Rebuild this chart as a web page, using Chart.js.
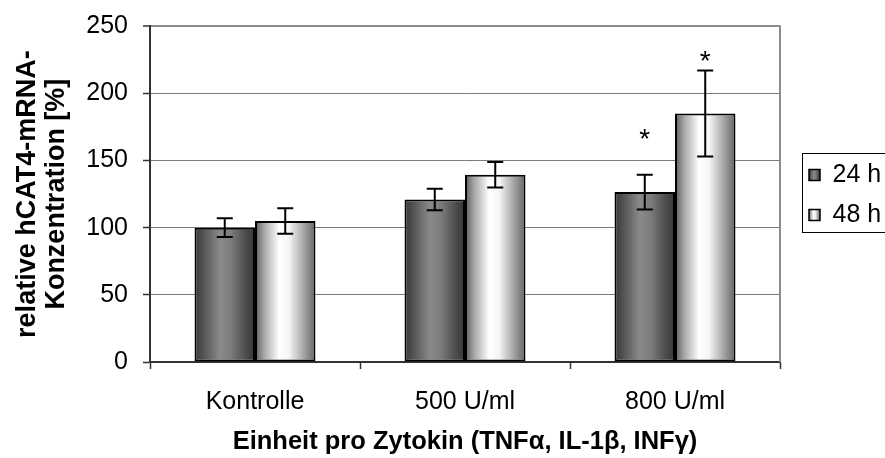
<!DOCTYPE html>
<html>
<head>
<meta charset="utf-8">
<style>
  html, body { margin: 0; padding: 0; background: #fff; overflow: hidden; }
  canvas { display: block; }
</style>
<script src="https://cdn.jsdelivr.net/npm/chart.js@4.4.1/dist/chart.umd.min.js"></script>
</head>
<body>
<canvas id="chart" width="885" height="458"></canvas>
<script>
// Relative hCAT4 mRNA after cytokine stimulation (mean ± error, % of control)
const categories = ['Kontrolle', '500 U/ml', '800 U/ml'];
const seriesNames = ['24 h', '48 h'];
const values24h = [100, 121, 126.5];
const errors24h = [7, 8, 13];
const values48h = [105, 139.5, 185];
const errors48h = [9.5, 9.5, 32];
const significant24h = [false, false, true];
const significant48h = [false, false, true];
const yTickValues = [0, 50, 100, 150, 200, 250];
const yTitleLines = ['relative hCAT4-mRNA-', 'Konzentration [%]'];
const xTitleText = 'Einheit pro Zytokin (TNFα, IL-1β, INFγ)';

const seriesValues = [values24h, values48h];
const seriesErrors = [errors24h, errors48h];
const seriesSignificance = [significant24h, significant48h];

// cylinder-like horizontal shading for each series
const shadeStops = [
  [[0, '#363636'], [0.18, '#5a5a5a'], [0.42, '#8a8a8a'], [0.6, '#7c7c7c'], [0.85, '#4c4c4c'], [1, '#363636']],
  [[0, '#5c5c5c'], [0.15, '#a6a6a6'], [0.4, '#ffffff'], [0.56, '#f6f6f6'], [0.82, '#a0a0a0'], [1, '#646464']]
];

function shade(ctx, x0, x1, stops) {
  if (!isFinite(x0) || !isFinite(x1)) return stops[2][1];
  const g = ctx.createLinearGradient(x0, 0, x1, 0);
  stops.forEach(([o, c]) => g.addColorStop(o, c));
  return g;
}

function barFill(seriesIndex) {
  return c => {
    const el = c.element;
    const stops = shadeStops[seriesIndex];
    if (!el) return stops[2][1];
    return shade(c.chart.ctx, el.x - el.width / 2, el.x + el.width / 2, stops);
  };
}

const FONT = "'Liberation Sans', Arial, Helvetica, sans-serif";
Chart.defaults.font.family = FONT;
Chart.defaults.color = '#000';

// legend sits in a framed box to the right of the plot
const LEGEND_BOX = { left: 802, top: 153, bottom: 232 };
const LEGEND_PAD = 15;

const legendPlacement = {
  id: 'legendPlacement',
  afterLayout(chart) {
    const L = chart.legend;
    if (!L) return;
    // items are centred between top and bottom
    L.left = LEGEND_BOX.left - 8;
    L.right = 900;
    L.top = 83;
    L.bottom = 307;
    L.width = L.right - L.left;
    L.height = L.bottom - L.top;
  },
  afterDraw(chart) {
    const ctx = chart.ctx;
    ctx.save();
    ctx.strokeStyle = '#000';
    ctx.lineWidth = 1;
    ctx.strokeRect(LEGEND_BOX.left + 0.5, LEGEND_BOX.top + 0.5, 120, LEGEND_BOX.bottom - LEGEND_BOX.top);
    ctx.restore();
  }
};

// gray frame on the right edge of the plot area
const plotFrame = {
  id: 'plotFrame',
  beforeDatasetsDraw(chart) {
    const { ctx, chartArea: a } = chart;
    ctx.save();
    ctx.strokeStyle = '#8c8c8c';
    ctx.lineWidth = 2;
    ctx.beginPath();
    ctx.moveTo(a.right, a.top - 1);
    ctx.lineTo(a.right, a.bottom);
    ctx.stroke();
    ctx.restore();
  }
};

// error bars and significance asterisks
const errorBars = {
  id: 'errorBars',
  afterDatasetsDraw(chart) {
    const ctx = chart.ctx;
    const y = chart.scales.y;
    ctx.save();
    ctx.strokeStyle = '#000';
    ctx.fillStyle = '#000';
    ctx.lineWidth = 2;
    seriesValues.forEach((vals, i) => {
      const meta = chart.getDatasetMeta(i);
      meta.data.forEach((bar, j) => {
        const v = vals[j], e = seriesErrors[i][j];
        const top = y.getPixelForValue(v + e);
        const bot = y.getPixelForValue(v - e);
        const x = bar.x;
        ctx.beginPath();
        ctx.moveTo(x, top); ctx.lineTo(x, bot);
        ctx.moveTo(x - 8, top); ctx.lineTo(x + 8, top);
        ctx.moveTo(x - 8, bot); ctx.lineTo(x + 8, bot);
        ctx.stroke();
        if (seriesSignificance[i][j]) {
          ctx.font = '28px ' + FONT;
          ctx.textAlign = 'center';
          ctx.textBaseline = 'alphabetic';
          ctx.fillText('*', x, y.getPixelForValue(v) - 44);
        }
      });
    });
    ctx.restore();
  }
};

const chart = new Chart(document.getElementById('chart'), {
  type: 'bar',
  data: {
    labels: categories,
    datasets: seriesNames.map((name, i) => ({
      label: name,
      data: seriesValues[i],
      backgroundColor: barFill(i),
      borderColor: '#000',
      borderWidth: 2,
      borderSkipped: false,
      barPercentage: 1,
      categoryPercentage: 0.576
    }))
  },
  options: {
    responsive: false,
    animation: false,
    events: [],
    layout: { padding: { left: 0, right: 25, top: 22.5, bottom: 0 } },
    plugins: {
      tooltip: { enabled: false },
      legend: {
        position: 'right',
        maxWidth: 80,
        labels: {
          boxWidth: 11,
          boxHeight: 11,
          padding: LEGEND_PAD,
          color: '#000',
          font: { size: 25, family: FONT },
          generateLabels: ch => ch.data.datasets.map((ds, i) => {
            const x0 = (ch.legend ? ch.legend.left : NaN) + LEGEND_PAD;
            return {
              text: ds.label,
              fillStyle: shade(ch.ctx, x0, x0 + 11, shadeStops[i]),
              strokeStyle: '#000',
              lineWidth: 1.5,
              hidden: false,
              datasetIndex: i,
              fontColor: '#000'
            };
          })
        }
      }
    },
    scales: {
      x: {
        afterFit: s => { s.height = 96; },
        grid: {
          display: true,
          drawOnChartArea: false,
          drawTicks: true,
          tickLength: 7,
          tickColor: '#333',
          tickWidth: 1.5,
          offset: true
        },
        border: { display: true, color: '#333', width: 2 },
        ticks: {
          color: '#000',
          font: { size: 25 },
          padding: 18,
          maxRotation: 0,
          autoSkip: false
        },
        title: {
          display: true,
          text: xTitleText,
          color: '#000',
          font: { size: 25.5, weight: 'bold', lineHeight: 1.2 },
          padding: { top: 0, bottom: 1 }
        }
      },
      y: {
        min: 0,
        max: 250,
        afterFit: s => { s.width = 150; },
        afterBuildTicks: s => { s.ticks = yTickValues.map(v => ({ value: v })); },
        grid: {
          color: c => (c.tick && c.tick.value === 250 ? '#8c8c8c' : '#7a7a7a'),
          lineWidth: c => (c.tick && c.tick.value === 250 ? 2 : 1),
          drawTicks: true,
          tickLength: 7,
          tickColor: '#333',
          tickWidth: 1.5
        },
        border: { display: true, color: '#333', width: 2 },
        ticks: {
          color: '#000',
          font: { size: 25, lineHeight: 0.9 },
          padding: 15
        },
        title: {
          display: true,
          text: yTitleLines,
          color: '#000',
          font: { size: 27, weight: 'bold', lineHeight: 1.04 },
          padding: { top: 14, bottom: 0 }
        }
      }
    }
  },
  plugins: [legendPlacement, plotFrame, errorBars]
});

// second pass so the bar shading follows the laid-out bar geometry
chart.update('none');
</script>
</body>
</html>
